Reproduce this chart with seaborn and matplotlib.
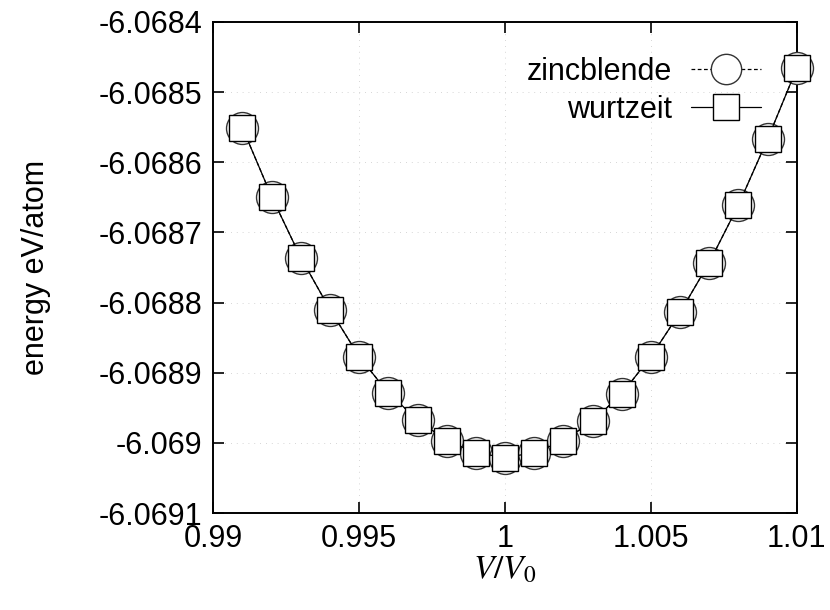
"""Energy per atom vs. relative volume, zincblende vs. wurtzeit."""
import matplotlib

matplotlib.use("Agg")
import matplotlib.pyplot as plt
import numpy as np
import pandas as pd
import seaborn as sns

# --- Data ------------------------------------------------------------------
VOLUME = [0.991, 0.992, 0.993, 0.994, 0.995, 0.996, 0.997, 0.998, 0.999, 1.000,
          1.001, 1.002, 1.003, 1.004, 1.005, 1.006, 1.007, 1.008, 1.009, 1.010]
E_ZINCBLENDE = [-6.068551, -6.068649, -6.068736, -6.068810, -6.068877,
                -6.068929, -6.068967, -6.068997, -6.069014, -6.069021,
                -6.069014, -6.068997, -6.068969, -6.068930, -6.068877,
                -6.068814, -6.068743, -6.068661, -6.068567, -6.068466]
E_WURTZEIT = [-6.068551, -6.068649, -6.068736, -6.068810, -6.068877,
              -6.068929, -6.068967, -6.068997, -6.069014, -6.069021,
              -6.069014, -6.068997, -6.068969, -6.068930, -6.068877,
              -6.068814, -6.068743, -6.068661, -6.068567, -6.068466]

X_TICKS = [0.99, 0.995, 1.0, 1.005, 1.01]
X_TICK_LABELS = ["0.99", "0.995", "1", "1.005", "1.01"]
Y_TICKS = [-6.0691, -6.0690, -6.0689, -6.0688, -6.0687, -6.0686, -6.0685, -6.0684]
Y_TICK_LABELS = ["-6.0691", "-6.069", "-6.0689", "-6.0688", "-6.0687",
                 "-6.0686", "-6.0685", "-6.0684"]

df = pd.DataFrame({"V": VOLUME, "zincblende": E_ZINCBLENDE, "wurtzeit": E_WURTZEIT})

sns.set_style("ticks")
plt.rcParams["font.family"] = ["Liberation Sans", "DejaVu Sans"]
plt.rcParams["mathtext.fontset"] = "stix"
for key in ["text.color", "axes.labelcolor", "xtick.color", "ytick.color"]:
    plt.rcParams[key] = "black"

fig = plt.figure(figsize=(8.3, 6.1), dpi=100)
ax = fig.add_axes([0.257, 0.159, 0.703, 0.805])

sns.lineplot(data=df, x="V", y="zincblende", ax=ax, color="black", lw=0.9,
             linestyle=(0, (3, 2)), marker="o", markersize=23,
             markerfacecolor="white", markeredgecolor="#333333",
             markeredgewidth=1.0, label="zincblende", clip_on=False, zorder=3)
sns.lineplot(data=df, x="V", y="wurtzeit", ax=ax, color="black", lw=0.9,
             linestyle="-", marker="s", markersize=19,
             markerfacecolor="white", markeredgecolor="black",
             markeredgewidth=1.0, label="wurtzeit", clip_on=False, zorder=4)

ax.set_xlim(0.99, 1.01)
ax.set_ylim(-6.0691, -6.0684)
ax.set_xticks(X_TICKS)
ax.set_xticklabels(X_TICK_LABELS)
ax.set_yticks(Y_TICKS)
ax.set_yticklabels(Y_TICK_LABELS)
ax.tick_params(direction="in", length=8, width=1.2, labelsize=22,
               top=True, right=True, pad=8, colors="black")
ax.grid(True, color="#c8c8c8", lw=0.6, linestyle=(0, (1, 6)))
for s in ax.spines.values():
    s.set_linewidth(1.4)
    s.set_color("black")

ax.set_xlabel("$V/V_0$", fontsize=24, labelpad=0, color="black")
ax.set_ylabel("energy eV/atom", fontsize=22, labelpad=34, color="black")

leg = ax.legend(loc="upper right", bbox_to_anchor=(0.975, 0.972), frameon=False,
                markerfirst=False, fontsize=22, handlelength=2.3,
                handletextpad=0.6, labelspacing=0.25, borderpad=0.2)
for h in leg.legend_handles:
    h.set_markersize(h.get_markersize() * 0.95)
for t in leg.get_texts():
    t.set_color("black")

fig.savefig("out.png", dpi=100)
